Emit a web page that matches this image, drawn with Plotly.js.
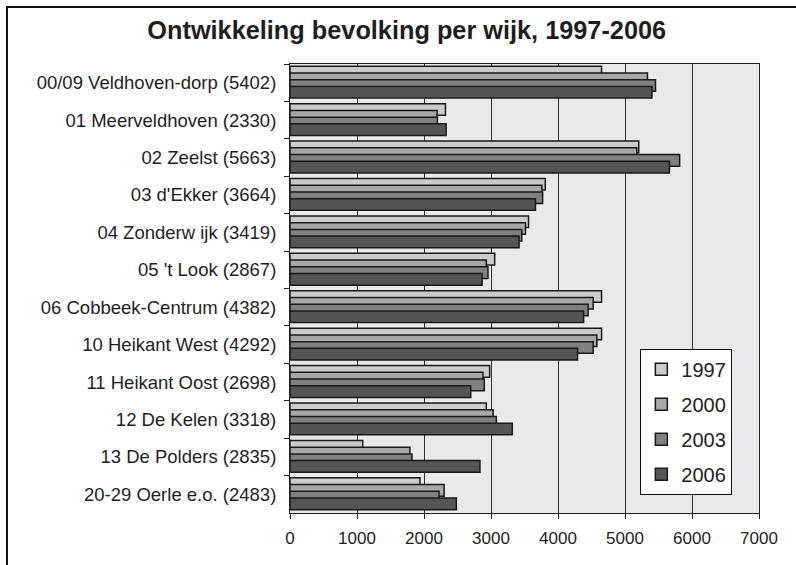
<!DOCTYPE html>
<html>
<head>
<meta charset="utf-8">
<script src="https://cdn.plot.ly/plotly-3.0.1.min.js"></script>
<style>
    body { margin: 0; background: #ffffff; }
    #wrap { position: relative; width: 796px; height: 565px; overflow: hidden; }
    #frame {
        position: absolute; left: 6px; top: 6px; width: 900px; height: 700px;
        border-left: 2px solid #111111; border-top: 2px solid #111111;
        pointer-events: none;
    }
</style>
</head>
<body>
<div id="wrap">
    <div id="graph" style="width:796px;height:565px;"></div>
    <div id="frame"></div>
</div>
<script>
// wijken, top to bottom
let wijken = [
    "00/09 Veldhoven-dorp (5402)",
    "01 Meerveldhoven (2330)",
    "02 Zeelst (5663)",
    "03 d'Ekker (3664)",
    "04 Zonderw ijk (3419)",
    "05 't Look (2867)",
    "06 Cobbeek-Centrum (4382)",
    "10 Heikant West (4292)",
    "11 Heikant Oost (2698)",
    "12 De Kelen (3318)",
    "13 De Polders (2835)",
    "20-29 Oerle e.o. (2483)",
];

let years = ["1997", "2000", "2003", "2006"];

// inwoners per wijk
let pop_1997 = [4650, 2320, 5205, 3810, 3560, 3055, 4650, 4650, 2980, 2930, 1085, 1940];
let pop_2000 = [5335, 2195, 5175, 3760, 3515, 2930, 4525, 4580, 2880, 3030, 1790, 2300];
let pop_2003 = [5455, 2200, 5815, 3770, 3460, 2955, 4450, 4525, 2900, 3080, 1820, 2225];
let pop_2006 = [5402, 2330, 5663, 3664, 3419, 2867, 4382, 4292, 2698, 3318, 2835, 2483];

let series = [pop_1997, pop_2000, pop_2003, pop_2006];
let colors = ["#cbcbcb", "#a7a7a7", "#808080", "#555555"];

const BAR_WIDTH = 0.31;
const BAR_STEP = 0.18;
const FIRST_OFFSET = -0.44;

let traces = series.map((values, i) => ({
    type: "bar",
    orientation: "h",
    name: years[i],
    legendgroup: years[i],
    x: values,
    y: wijken,
    width: BAR_WIDTH,
    offset: FIRST_OFFSET + i * BAR_STEP,
    marker: {
        color: colors[i],
        line: { color: "#1a1a1a", width: 1.5 },
    },
    hoverinfo: "skip",
}));

let font_name = "'Liberation Sans', Arial, sans-serif";

let layout = {
    width: 796,
    height: 565,
    paper_bgcolor: "#ffffff",
    plot_bgcolor: "#e9e9ec",
    margin: { l: 290, r: 37, t: 64, b: 52, pad: 0 },
    barmode: "overlay",
    showlegend: true,
    font: { family: font_name, color: "#1e1e1e" },
    title: {
        text: "Ontwikkeling bevolking per wijk, 1997-2006",
        font: { family: font_name, size: 25.3, weight: "bold", color: "#1e1e1e" },
        x: 0.511,
        xanchor: "center",
        y: 0.946,
        yanchor: "middle",
    },
    xaxis: {
        range: [0, 7000],
        dtick: 1000,
        tick0: 0,
        showgrid: true,
        gridcolor: "#333333",
        gridwidth: 1,
        zeroline: false,
        ticks: "outside",
        ticklen: 5,
        tickcolor: "#222222",
        ticklabelstandoff: 5,
        showline: true,
        linecolor: "#222222",
        linewidth: 1,
        mirror: true,
        tickfont: { family: font_name, size: 17, color: "#1e1e1e" },
    },
    yaxis: {
        type: "category",
        autorange: "reversed",
        tickson: "boundaries",
        ticks: "outside",
        ticklen: 5,
        tickcolor: "#222222",
        ticklabelstandoff: 9,
        showgrid: false,
        showline: true,
        linecolor: "#222222",
        linewidth: 1,
        mirror: true,
        tickfont: { family: font_name, size: 18.5, color: "#1e1e1e" },
    },
    legend: {
        x: 0.747,
        y: 0.366,
        xanchor: "left",
        yanchor: "top",
        bgcolor: "#ffffff",
        bordercolor: "#111111",
        borderwidth: 1,
        traceorder: "grouped",
        tracegroupgap: 6,
        font: { family: font_name, size: 20, color: "#1e1e1e" },
    },
};

Plotly.newPlot("graph", traces, layout, { displayModeBar: false, staticPlot: true });
</script>
</body>
</html>
